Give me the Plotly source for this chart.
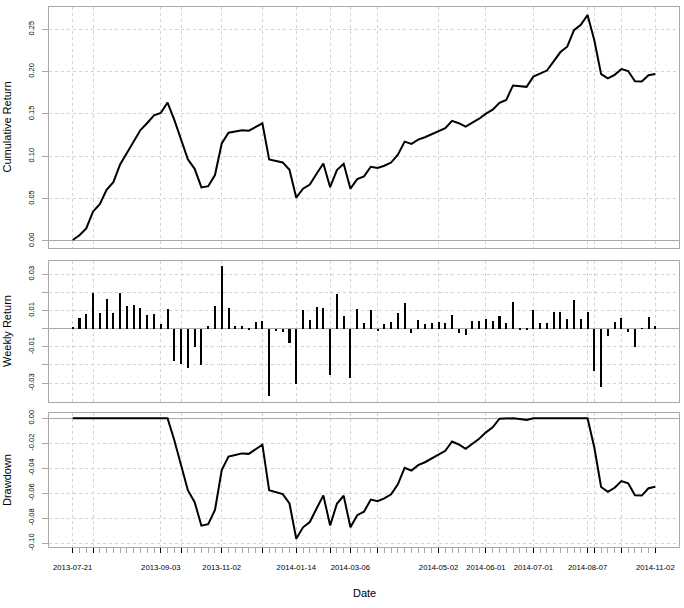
import numpy as np
import plotly.graph_objects as go

weekly_returns = [
    0.0011, 0.0057, 0.0080, 0.0196, 0.0085, 0.0162, 0.0085, 0.0196, 0.0124, 0.0130,
    0.0113, 0.0074, 0.0080, 0.0024, 0.0107, -0.0176, -0.0193, -0.0219, -0.0102, -0.0202,
    0.0013, 0.0124, 0.0346, 0.0113, 0.0013, 0.0013, -0.0004, 0.0035, 0.0041, -0.0374,
    -0.0013, -0.0019, -0.0080, -0.0304, 0.0102, 0.0046, 0.0119, 0.0113, -0.0257, 0.0190,
    0.0069, -0.0270, 0.0107, 0.0030, 0.0105, -0.0013, 0.0024, 0.0035, 0.0085, 0.0140,
    -0.0024, 0.0046, 0.0024, 0.0030, 0.0035, 0.0030, 0.0076, -0.0024, -0.0035, 0.0041,
    0.0041, 0.0052, 0.0041, 0.0070, 0.0030, 0.0146, -0.0007, -0.0007, 0.0102, 0.0030,
    0.0030, 0.0091, 0.0090, 0.0052, 0.0158, 0.0052, 0.0091, -0.0235, -0.0324, -0.0041,
    0.0035, 0.0057, -0.0019, -0.0102, -0.0002, 0.0063, 0.0013,
]

# Observation index (x axis is index based, like an xts chart)
obs = list(range(1, len(weekly_returns) + 1))

# Major tick positions (observation index) and their date labels
major_ticks = [1, 4, 14, 17, 23, 29, 34, 39, 42, 46, 55, 62, 69, 77, 78, 82, 87]
major_labels = ["2013-07-21", "", "2013-09-03", "", "2013-11-02", "", "2014-01-14", "",
                "2014-03-06", "", "2014-05-02", "2014-06-01", "2014-07-01", "2014-08-07",
                "", "", "2014-11-02"]

# Y tick values / labels per panel
cum_ticks = [0.00, 0.05, 0.10, 0.15, 0.20, 0.25]
cum_labels = ["0.00", "0.05", "0.10", "0.15", "0.20", "0.25"]
ret_ticks = [-0.03, -0.02, -0.01, 0.00, 0.01, 0.02, 0.03]
ret_labels = ["-0.03", "", "-0.01", "", "0.01", "", "0.03"]
dd_ticks = [-0.10, -0.08, -0.06, -0.04, -0.02, 0.00]
dd_labels = ["-0.10", "-0.08", "-0.06", "-0.04", "-0.02", "0.00"]

# Derived series (as the charting library computes them)
r = np.array(weekly_returns)
wealth = np.cumprod(1 + r)
cumulative = wealth - 1
drawdown = wealth / np.maximum.accumulate(wealth) - 1

W, H = 684, 608
L, R, T, B = 49, 5, 7, 61
plot_h = H - T - B


def frac(py):
    return (H - B - py) / plot_h


fig = go.Figure()

fig.add_trace(go.Scatter(x=obs, y=cumulative, mode="lines",
                         line=dict(color="black", width=2), xaxis="x", yaxis="y",
                         showlegend=False))
fig.add_trace(go.Bar(x=obs, y=weekly_returns, width=0.3,
                     marker=dict(color="black", line=dict(width=0)),
                     xaxis="x2", yaxis="y2", showlegend=False))
fig.add_trace(go.Scatter(x=obs, y=drawdown, mode="lines",
                         line=dict(color="black", width=2), xaxis="x3", yaxis="y3",
                         showlegend=False))

box = "#A9A9A9"
grid = "#D3D3D3"
font = "Liberation Sans, Arial, sans-serif"
xrange = [-2.5, 90.5]
minor_vals = [o for o in obs if o not in major_ticks]

common_x = dict(range=xrange, showline=True, mirror=True, linecolor=box, linewidth=1,
                tickmode="array", tickvals=major_ticks, showgrid=True, gridcolor=grid,
                griddash="dot", gridwidth=1, zeroline=False)

fig.update_layout(
    width=W, height=H,
    margin=dict(l=L, r=R, t=T, b=B, pad=0),
    paper_bgcolor="white", plot_bgcolor="white",
    font=dict(family=font, color="black"),
    bargap=0,
    xaxis=dict(**common_x, domain=[0, 1], anchor="y", showticklabels=False, ticks=""),
    xaxis2=dict(**common_x, domain=[0, 1], anchor="y2", showticklabels=False, ticks=""),
    xaxis3=dict(**common_x, domain=[0, 1], anchor="y3", ticktext=major_labels,
                ticks="outside", ticklen=5, tickcolor="black", tickwidth=1,
                tickfont=dict(size=7.7, color="black"), ticklabelstandoff=8,
                minor=dict(tickmode="array", tickvals=minor_vals, ticks="outside",
                           ticklen=5, tickcolor=box, tickwidth=1, showgrid=False)),
)

common_y = dict(showline=True, mirror=True, linecolor=box, linewidth=1,
                tickmode="array", ticks="outside", ticklen=6, tickcolor=box,
                showgrid=True, gridcolor=grid, griddash="dot", gridwidth=1,
                zeroline=True, zerolinecolor=box, zerolinewidth=1,
                tickangle=-90, ticklabelstandoff=5,
                tickfont=dict(size=7.5, color="black"))

fig.update_layout(
    yaxis=dict(**common_y, domain=[frac(248), frac(7)], anchor="x",
               range=[-0.0083, 0.2763], tickvals=cum_ticks, ticktext=cum_labels),
    yaxis2=dict(**common_y, domain=[frac(401.7), frac(261)], anchor="x2",
                range=[-0.0403, 0.0373], tickvals=ret_ticks, ticktext=ret_labels),
    yaxis3=dict(**common_y, domain=[frac(547), frac(413)], anchor="x3",
                range=[-0.1032, 0.0042], tickvals=dd_ticks, ticktext=dd_labels),
)


def px_x(px):
    return (px - L) / (W - L - R)


ann_font = dict(family=font, size=11, color="black")
for text, py in [("Cumulative Return", 127.5), ("Weekly Return", 331), ("Drawdown", 480)]:
    fig.add_annotation(text=text, x=px_x(7), y=frac(py), xref="paper", yref="paper",
                       showarrow=False, textangle=-90, font=ann_font,
                       xanchor="center", yanchor="middle")
fig.add_annotation(text="Date", x=px_x(364), y=frac(593), xref="paper", yref="paper",
                   showarrow=False, font=ann_font, xanchor="center", yanchor="middle")

fig.write_html("out.html")
